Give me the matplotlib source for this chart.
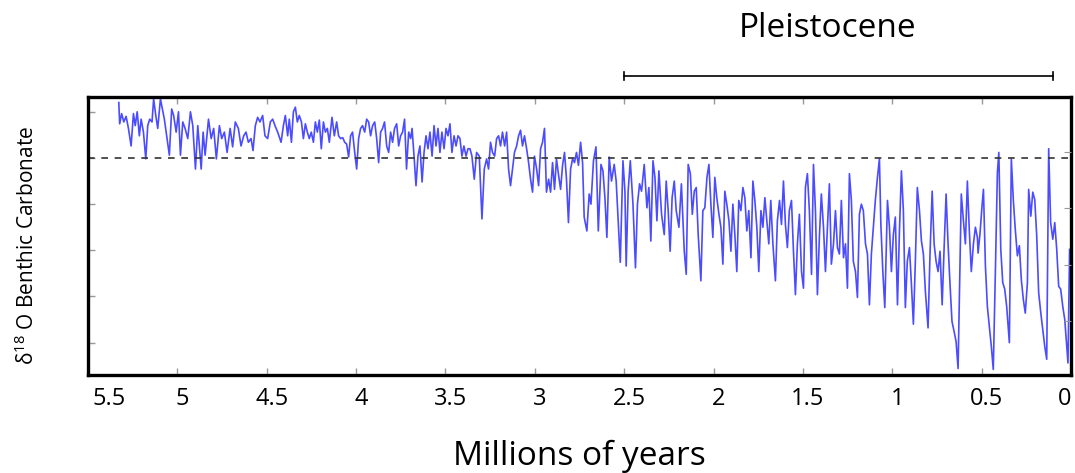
import numpy as np
import matplotlib.pyplot as plt
from matplotlib.ticker import MultipleLocator, FormatStrFormatter
import matplotlib.transforms as mtransforms

plt.rcParams['font.family'] = ['Open Sans', 'DejaVu Sans']
plt.rcParams['mathtext.fontset'] = 'custom'
plt.rcParams['mathtext.rm'] = 'Open Sans'

# benthic d18O record (age in Myr, oldest first)
pliocene_age = [
    5.328, 5.323, 5.312, 5.300, 5.287, 5.274, 5.259, 5.246, 5.236, 5.225,
    5.213, 5.203, 5.190, 5.177, 5.166, 5.155, 5.142, 5.133, 5.121, 5.110,
    5.095, 5.084, 5.073, 5.058, 5.045, 5.032, 5.021, 5.007, 4.994, 4.983,
    4.970, 4.957, 4.942, 4.927, 4.914, 4.899, 4.886, 4.867, 4.856, 4.845,
    4.826, 4.811, 4.797, 4.782, 4.765, 4.752, 4.737, 4.722, 4.705, 4.691,
    4.676, 4.659, 4.644, 4.629, 4.616, 4.603, 4.588, 4.577, 4.564, 4.551,
    4.538, 4.523, 4.510, 4.495, 4.480, 4.467, 4.454, 4.439, 4.420, 4.407,
    4.396, 4.383, 4.374, 4.362, 4.351, 4.340, 4.329, 4.318, 4.306, 4.295,
    4.284, 4.273, 4.262, 4.251, 4.239, 4.228, 4.217, 4.206, 4.195, 4.183,
    4.172, 4.161, 4.150, 4.135, 4.122, 4.109, 4.098, 4.087, 4.075, 4.064,
    4.053, 4.042, 4.031, 4.020, 4.008, 3.997, 3.986, 3.975, 3.964, 3.952,
    3.941, 3.930, 3.919, 3.908, 3.896, 3.885, 3.874, 3.863, 3.852, 3.841,
    3.829, 3.818, 3.807, 3.796, 3.785, 3.773, 3.762, 3.751, 3.740, 3.729,
    3.718, 3.706, 3.695, 3.687, 3.676, 3.665, 3.654, 3.643, 3.631, 3.620,
    3.609, 3.598, 3.587, 3.575, 3.564, 3.553, 3.542, 3.531, 3.520, 3.508,
    3.497, 3.486, 3.475, 3.464, 3.452, 3.441, 3.430, 3.419, 3.408, 3.397,
    3.385, 3.374, 3.363, 3.352, 3.339, 3.326, 3.311, 3.296, 3.283, 3.270,
    3.259, 3.248, 3.237, 3.225, 3.214, 3.203, 3.192, 3.181, 3.169, 3.158,
    3.147, 3.136, 3.125, 3.114, 3.102, 3.091, 3.080, 3.069, 3.058, 3.046,
    3.035, 3.024, 3.013, 3.002, 2.990, 2.979, 2.968, 2.957, 2.946, 2.935,
    2.923, 2.912, 2.901, 2.890, 2.879, 2.867, 2.856, 2.845, 2.834, 2.823,
    2.812, 2.800, 2.789, 2.778, 2.767, 2.756, 2.744, 2.733,
]
pliocene_d18o = [
    2.40, 2.63, 2.52, 2.61, 2.55, 2.68, 2.87, 2.52, 2.65, 2.50,
    2.76, 2.58, 2.72, 3.01, 2.65, 2.58, 2.61, 2.36, 2.54, 2.68,
    2.36, 2.47, 2.58, 2.79, 2.97, 2.47, 2.54, 2.72, 2.50, 2.97,
    2.61, 2.68, 2.79, 2.50, 2.65, 3.12, 2.65, 3.12, 2.72, 2.97,
    2.58, 2.79, 2.68, 3.01, 2.65, 2.79, 2.72, 2.94, 2.68, 2.88,
    2.61, 2.68, 2.87, 2.76, 2.72, 2.83, 2.79, 2.92, 2.65, 2.56,
    2.61, 2.54, 2.76, 2.79, 2.61, 2.58, 2.65, 2.72, 2.83, 2.65,
    2.54, 2.76, 2.58, 2.83, 2.50, 2.45, 2.61, 2.54, 2.61, 2.79,
    2.63, 2.72, 2.79, 2.72, 2.83, 2.61, 2.72, 2.59, 2.90, 2.61,
    2.72, 2.68, 2.83, 2.56, 2.76, 2.61, 2.76, 2.79, 2.78, 2.83,
    2.85, 2.99, 2.76, 2.72, 2.94, 3.12, 2.79, 2.68, 2.65, 2.72,
    2.58, 2.61, 2.76, 2.65, 2.61, 2.79, 3.05, 2.72, 2.68, 2.61,
    2.87, 2.94, 2.72, 2.83, 2.68, 2.63, 2.87, 2.76, 2.72, 2.58,
    3.12, 2.72, 2.79, 2.68, 2.98, 3.30, 2.98, 2.87, 3.26, 2.94,
    2.76, 2.90, 2.72, 2.98, 2.65, 2.87, 2.68, 2.94, 2.72, 2.90,
    2.68, 2.76, 2.63, 2.94, 2.76, 2.87, 2.76, 2.79, 2.98, 2.87,
    2.98, 2.90, 2.90, 2.98, 3.23, 2.94, 2.98, 3.66, 3.12, 3.01,
    3.12, 2.83, 2.94, 2.98, 2.79, 2.76, 2.87, 2.72, 2.87, 2.72,
    3.12, 3.30, 3.12, 2.94, 2.87, 2.76, 2.70, 2.87, 2.76, 2.90,
    3.05, 3.23, 3.37, 2.98, 3.12, 3.30, 2.90, 2.83, 2.68, 3.37,
    3.23, 3.37, 3.05, 3.34, 3.01, 3.19, 3.34, 3.08, 2.94, 3.23,
    3.70, 3.12, 3.01, 3.05, 2.94, 3.08, 2.83, 3.05,
]

pleistocene_age = [
    2.724, 2.709, 2.696, 2.686, 2.672, 2.658, 2.645, 2.630, 2.619, 2.608,
    2.597, 2.584, 2.571, 2.556, 2.545, 2.534, 2.522, 2.507, 2.496, 2.489,
    2.478, 2.466, 2.451, 2.437, 2.426, 2.414, 2.403, 2.388, 2.373, 2.362,
    2.351, 2.339, 2.328, 2.317, 2.306, 2.291, 2.276, 2.265, 2.254, 2.243,
    2.232, 2.220, 2.209, 2.194, 2.180, 2.164, 2.153, 2.142, 2.130, 2.119,
    2.108, 2.097, 2.086, 2.071, 2.060, 2.049, 2.037, 2.026, 2.015, 2.004,
    1.993, 1.982, 1.970, 1.959, 1.948, 1.937, 1.926, 1.914, 1.903, 1.892,
    1.881, 1.870, 1.859, 1.847, 1.836, 1.825, 1.814, 1.803, 1.791, 1.780,
    1.769, 1.758, 1.747, 1.735, 1.724, 1.713, 1.702, 1.691, 1.680, 1.668,
    1.654, 1.643, 1.631, 1.620, 1.609, 1.598, 1.587, 1.576, 1.564, 1.553,
    1.542, 1.531, 1.520, 1.508, 1.497, 1.486, 1.475, 1.464, 1.452, 1.441,
    1.430, 1.419, 1.408, 1.397, 1.385, 1.374, 1.363, 1.352, 1.341, 1.329,
    1.318, 1.307, 1.296, 1.285, 1.273, 1.262, 1.251, 1.240, 1.229, 1.218,
    1.206, 1.195, 1.184, 1.173, 1.162, 1.150, 1.139, 1.128, 1.117, 1.106,
    1.095, 1.083, 1.072, 1.064, 1.053, 1.042, 1.027, 1.016, 1.005, 0.994,
    0.983, 0.971, 0.960, 0.949, 0.938, 0.927, 0.916, 0.904, 0.893, 0.882,
    0.871, 0.860, 0.848, 0.837, 0.826, 0.815, 0.800, 0.789, 0.777, 0.766,
    0.755, 0.744, 0.733, 0.721, 0.710, 0.699, 0.688, 0.677, 0.666, 0.654,
    0.643, 0.632, 0.621, 0.614, 0.602, 0.591, 0.580, 0.569, 0.558, 0.546,
    0.535, 0.524, 0.520, 0.509, 0.498, 0.490, 0.479, 0.468, 0.457, 0.446,
    0.435, 0.423, 0.412, 0.404, 0.393, 0.382, 0.371, 0.360, 0.345, 0.334,
    0.323, 0.312, 0.300, 0.289, 0.278, 0.267, 0.256, 0.244, 0.237, 0.225,
    0.214, 0.203, 0.192, 0.181, 0.169, 0.158, 0.147, 0.136, 0.125, 0.114,
    0.102, 0.091, 0.080, 0.069, 0.058, 0.046, 0.035, 0.024, 0.017, 0.008,
]
pleistocene_d18o = [
    3.64, 3.79, 3.39, 3.50, 3.03, 2.88, 3.79, 3.07, 3.14, 3.43,
    3.86, 2.99, 3.25, 3.07, 3.25, 3.68, 4.13, 3.03, 3.36, 4.17,
    3.36, 3.03, 3.50, 4.19, 3.50, 3.28, 3.36, 3.07, 3.54, 3.32,
    3.90, 3.03, 3.21, 3.68, 3.14, 3.61, 3.83, 3.25, 3.57, 4.01,
    3.43, 3.25, 3.57, 3.75, 3.28, 4.01, 4.26, 3.07, 3.17, 3.61,
    3.36, 3.32, 3.83, 4.33, 3.57, 3.54, 3.21, 3.07, 3.50, 3.86,
    3.21, 3.43, 3.61, 3.75, 4.15, 3.36, 3.50, 3.68, 4.01, 3.50,
    3.83, 4.23, 3.46, 3.57, 3.32, 3.43, 3.79, 3.57, 4.08, 3.25,
    3.46, 3.75, 4.23, 3.57, 3.75, 3.43, 3.68, 3.93, 3.46, 3.93,
    4.33, 3.68, 3.46, 3.72, 3.25, 3.72, 3.97, 3.57, 3.46, 4.01,
    4.48, 3.93, 3.61, 4.23, 4.41, 3.32, 3.17, 3.57, 4.26, 3.07,
    3.57, 4.48, 3.86, 3.39, 3.75, 4.23, 3.75, 3.28, 4.15, 3.93,
    3.57, 3.97, 4.04, 3.46, 4.08, 3.93, 4.41, 3.17, 3.46, 4.12,
    4.23, 4.51, 3.61, 3.50, 3.57, 3.93, 4.04, 4.59, 4.04, 3.75,
    3.46, 3.21, 3.01, 3.72, 4.23, 4.62, 3.46, 3.75, 4.23, 3.83,
    3.64, 4.59, 3.79, 3.14, 3.57, 4.62, 4.12, 3.97, 4.37, 4.80,
    4.12, 3.32, 3.57, 3.90, 4.04, 4.44, 4.84, 4.04, 3.36, 3.93,
    4.12, 4.23, 4.01, 4.59, 3.97, 3.39, 3.93, 4.37, 4.77, 4.88,
    4.99, 5.28, 4.12, 3.39, 3.68, 3.93, 3.25, 3.79, 4.23, 3.93,
    3.75, 3.86, 4.03, 3.81, 3.52, 3.34, 4.17, 4.61, 4.82, 5.04,
    5.29, 4.21, 3.16, 2.94, 3.99, 4.35, 4.42, 4.61, 5.00, 3.01,
    3.45, 3.77, 4.06, 3.95, 4.32, 4.53, 4.68, 4.35, 3.34, 3.63,
    3.37, 3.45, 3.84, 4.46, 4.68, 4.86, 5.04, 5.18, 2.90, 3.70,
    3.88, 3.70, 3.99, 4.39, 4.42, 4.61, 4.75, 5.04, 5.22, 3.99,
]

x_ticks = [5.5, 5, 4.5, 4, 3.5, 3, 2.5, 2, 1.5, 1, 0.5, 0]
modern_level = 3.0
pleistocene_span = (2.5, 0.1)

age = np.array(pliocene_age + pleistocene_age)
d18o = np.array(pliocene_d18o + pleistocene_d18o)

fig = plt.figure(figsize=(10.75, 4.73), dpi=100)
ax = fig.add_axes([0.0819, 0.2072, 0.9144, 0.5877])

ax.plot(age, d18o, color='#1f1fff', lw=1.2, alpha=0.8)
ax.axhline(modern_level, color='#333333', lw=1.2, ls=(0, (4, 4)))

ax.set_xlim(5.5, 0)
ax.set_ylim(5.35, 2.34)
ax.set_xticks(x_ticks)
ax.xaxis.set_major_formatter(FormatStrFormatter('%g'))
ax.yaxis.set_major_locator(MultipleLocator(0.5))
ax.tick_params(axis='both', direction='in', length=5, width=1, color='#999999',
               top=True, labelleft=False, labelsize=17, pad=9)
for s in ax.spines.values():
    s.set_linewidth(2.4)

# nudge the x labels a little to the right like the original, edges inward
labels = ax.get_xticklabels()
for i, lab in enumerate(labels):
    dx = 5
    if i == 0:
        dx = 21
    elif i == len(labels) - 1:
        dx = -6
    lab.set_transform(lab.get_transform() +
                      mtransforms.ScaledTranslation(dx / 100, 0, fig.dpi_scale_trans))

# right hand scale: ticks only
ax2 = ax.twinx()
ax2.set_ylim(3.96, -0.98)
ax2.set_yticks([0, 1, 2, 3])
ax2.tick_params(axis='y', direction='in', length=5, color='#999999', labelright=False)
for s in ax2.spines.values():
    s.set_visible(False)

ax.set_xlabel('Millions of years', fontsize=24, labelpad=20)
fig.text(0.025, 0.482, r'$\mathregular{\delta^{18}}$ O Benthic Carbonate',
         rotation=90, ha='center', va='center', fontsize=15)

# Pleistocene bracket above the plot
trans = mtransforms.blended_transform_factory(ax.transData, ax.transAxes)
ax.plot(pleistocene_span, [1.0755, 1.0755], color='black', lw=1.2,
        transform=trans, clip_on=False)
for xe in pleistocene_span:
    ax.plot([xe, xe], [1.06, 1.091], color='black', lw=1.2,
            transform=trans, clip_on=False)
ax.text(1.365, 1.245, 'Pleistocene', transform=trans, ha='center', va='center',
        fontsize=24)

fig.savefig('out.png', dpi=100)
